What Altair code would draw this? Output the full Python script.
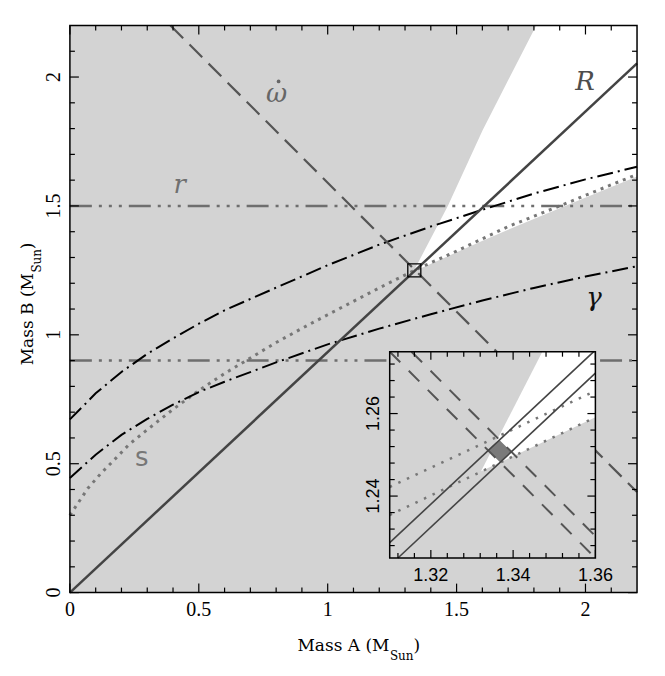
import altair as alt
import pandas as pd

# ---------------- main panel (solar masses) ----------------
main_dom = [0.0, 2.2]

R_x = [0.0, 2.2]
R_y = [0.0, 2.053]

omdot_x = [0.39, 2.2]
omdot_y = [2.2, 0.39]

r_levels = [1.5, 0.9]
r_span = [0.0, 2.2]

s_x = [0.0, 0.03, 0.07, 0.12, 0.17, 0.23, 0.3, 0.4, 0.5, 0.6, 0.7, 0.8, 0.9, 1.0,
       1.1, 1.2, 1.34, 1.5, 1.7, 1.9, 2.1, 2.2]
s_y = [0.30, 0.345, 0.405, 0.462, 0.513, 0.575, 0.632, 0.711, 0.784, 0.85, 0.91, 0.97,
       1.025, 1.078, 1.13, 1.182, 1.252, 1.325, 1.42, 1.5, 1.582, 1.622]

gam_x = [0.0, 0.05, 0.1, 0.2, 0.3, 0.4, 0.5, 0.6, 0.8, 1.0, 1.2, 1.4, 1.6, 1.8, 2.0, 2.2]
gam_up = [0.672, 0.722, 0.773, 0.856, 0.926, 0.986, 1.043, 1.095, 1.183, 1.270, 1.350,
          1.420, 1.485, 1.548, 1.603, 1.652]
gam_lo = [0.445, 0.49, 0.535, 0.612, 0.674, 0.729, 0.778, 0.818, 0.893, 0.963, 1.024,
          1.080, 1.133, 1.182, 1.226, 1.266]

wedge_x = [1.333, 1.466, 1.601, 1.691, 1.809, 1.949, 2.2]
wedge_lo = [1.246, 1.305, 1.365, 1.404, 1.453, 1.511, 1.614]
wedge_hi = [1.246, 1.5, 1.794, 1.970, 2.2, 2.2, 2.2]

square_x = [1.336]
square_y = [1.250]

main_major = [0.0, 0.5, 1.0, 1.5, 2.0]
main_major_labels = ["0", "0.5", "1", "1.5", "2"]
main_minor = [0.1, 0.2, 0.3, 0.4, 0.6, 0.7, 0.8, 0.9, 1.1, 1.2, 1.3, 1.4, 1.6, 1.7,
              1.8, 1.9, 2.1]

# ---------------- inset ----------------
ins_xdom = [1.31, 1.36]
ins_ydom = [1.225, 1.275]

insR_up_x = [1.31, 1.3596]
insR_up_y = [1.2287, 1.275]
insR_lo_x = [1.3120, 1.36]
insR_lo_y = [1.225, 1.2698]
insOm_a_x = [1.31, 1.36]
insOm_a_y = [1.275, 1.225]
insOm_b_x = [1.3153, 1.36]
insOm_b_y = [1.275, 1.2303]
insS_up_x = [1.31, 1.36]
insS_up_y = [1.2422, 1.2655]
insS_lo_x = [1.31, 1.36]
insS_lo_y = [1.2354, 1.2591]
ins_wedge_x = [1.3322, 1.3471, 1.36]
ins_wedge_lo = [1.2460, 1.2530, 1.2591]
ins_wedge_hi = [1.2460, 1.275, 1.275]
ins_patch_x = [1.3340, 1.3367, 1.3368, 1.3395]
ins_patch_lo = [1.2510, 1.2483, 1.2482, 1.2508]
ins_patch_hi = [1.2510, 1.2536, 1.2535, 1.2508]

ins_x_major = [1.32, 1.34, 1.36]
ins_x_labels = ["1.32", "1.34", "1.36"]
ins_x_minor = [1.312, 1.316, 1.324, 1.328, 1.332, 1.336, 1.344, 1.348, 1.352, 1.356]
ins_y_major = [1.24, 1.26]
ins_y_labels = ["1.24", "1.26"]
ins_y_minor = [1.228, 1.232, 1.236, 1.244, 1.248, 1.252, 1.256, 1.264, 1.268, 1.272]

# ---------------- layout / style ----------------
W = H = 568
IL, IR, IT, IB = 320.3, 526.3, 326.7, 533.3   # inset box in view pixels
GRAY = "#d3d3d3"

MX = alt.Scale(domain=main_dom, nice=False, zero=False)
MY = alt.Scale(domain=main_dom, nice=False, zero=False)
IX = alt.Scale(domain=ins_xdom, range=[IL, IR], nice=False, zero=False)
IY = alt.Scale(domain=ins_ydom, range=[IB, IT], nice=False, zero=False)


def X(f, sc):
    return alt.X(f, type="quantitative", scale=sc, axis=None)


def Y(f, sc):
    return alt.Y(f, type="quantitative", scale=sc, axis=None)


def line(xs, ys, sx, sy, color, width, dash=None):
    df = pd.DataFrame({"x": xs, "y": ys, "i": list(range(len(xs)))})
    kw = dict(color=color, strokeWidth=width)
    if dash:
        kw["strokeDash"] = dash
    return alt.Chart(df).mark_line(**kw).encode(
        x=X("x", sx), y=Y("y", sy), order=alt.Order("i:Q"))


def area(xs, lo, hi, sx, sy, color):
    df = pd.DataFrame({"x": xs, "lo": lo, "hi": hi})
    return alt.Chart(df).mark_area(color=color, opacity=1).encode(
        x=X("x", sx), y=Y("lo", sy), y2="hi")


def text(t, x, y, size, color="black", font="DejaVu Serif", style="normal",
         align="center", baseline="alphabetic", angle=0):
    df = pd.DataFrame({"t": [t]})
    return alt.Chart(df).mark_text(
        fontSize=size, font=font, fontStyle=style, color=color, align=align,
        baseline=baseline, angle=angle).encode(
        text="t:N", x=alt.value(x), y=alt.value(y))


def xticks(vals, sx, ybot, ytop, length, width=1.2):
    df = pd.DataFrame({"v": vals})
    base = alt.Chart(df).mark_rule(color="black", strokeWidth=width)
    return [
        base.encode(x=X("v", sx), y=alt.value(ybot), y2=alt.value(ybot - length)),
        base.encode(x=X("v", sx), y=alt.value(ytop), y2=alt.value(ytop + length)),
    ]


def yticks(vals, sy, xleft, xright, length, width=1.2):
    df = pd.DataFrame({"v": vals})
    base = alt.Chart(df).mark_rule(color="black", strokeWidth=width)
    return [
        base.encode(y=Y("v", sy), x=alt.value(xleft), x2=alt.value(xleft + length)),
        base.encode(y=Y("v", sy), x=alt.value(xright), x2=alt.value(xright - length)),
    ]


# ---------------- main layers ----------------
bg = alt.Chart(pd.DataFrame({"a": [main_dom[0]], "b": [main_dom[1]]})).mark_rect(
    color=GRAY).encode(x=X("a", MX), x2="b", y=Y("a", MY), y2="b")

r_df = pd.DataFrame([(lv, xx, k) for lv in r_levels for k, xx in enumerate(r_span)],
                    columns=["lv", "x", "k"])
r_lines = alt.Chart(r_df).mark_line(
    color="#6e6e6e", strokeWidth=2.5, strokeDash=[22, 7, 3, 7, 3, 7, 3, 7]).encode(
    x=X("x", MX), y=Y("lv", MY), detail="lv:N", order=alt.Order("k:Q"))

sq = alt.Chart(pd.DataFrame({"x": square_x, "y": square_y})).mark_point(
    shape="square", size=170, filled=False, color="black", strokeWidth=1.3, opacity=1
).encode(x=X("x", MX), y=Y("y", MY))

frame = alt.Chart(pd.DataFrame({"a": [main_dom[0]], "b": [main_dom[1]]})).mark_rect(
    fillOpacity=0, stroke="black", strokeWidth=1.5).encode(
    x=X("a", MX), x2="b", y=Y("a", MY), y2="b")

xlab = alt.Chart(pd.DataFrame({"v": main_major, "t": main_major_labels})).mark_text(
    font="Liberation Serif", fontSize=20, baseline="alphabetic", align="center").encode(
    x=X("v", MX), y=alt.value(591.7), text="t:N")
ylab = alt.Chart(pd.DataFrame({"v": main_major, "t": main_major_labels})).mark_text(
    font="Liberation Serif", fontSize=20, baseline="alphabetic", align="center",
    angle=270).encode(y=Y("v", MY), x=alt.value(-10), text="t:N")

main_layers = [
    bg,
    area(wedge_x, wedge_lo, wedge_hi, MX, MY, "white"),
    line(s_x, s_y, MX, MY, "#777777", 3, [3, 5]),
    r_lines,
    line(gam_x, gam_up, MX, MY, "black", 2, [16, 5, 2, 5]),
    line(gam_x, gam_lo, MX, MY, "black", 2, [16, 5, 2, 5]),
    line(omdot_x, omdot_y, MX, MY, "#555555", 2.2, [18, 9]),
    line(R_x, R_y, MX, MY, "#444444", 2.5),
    sq,
    *xticks(main_major, MX, H, 0, 9),
    *xticks(main_minor, MX, H, 0, 5),
    *yticks(main_major, MY, 0, W, 9),
    *yticks(main_minor, MY, 0, W, 5),
    xlab, ylab,
    text("R", 516, 65, 26, "#4d4d4d", style="italic"),
    text("ω", 207, 77, 26, "#666666", style="italic"),
    alt.Chart(pd.DataFrame({"t": [0]})).mark_circle(size=14, color="#666666", opacity=1)
    .encode(x=alt.value(209), y=alt.value(56)),
    text("r", 110, 168, 26, "#707070", style="italic"),
    text("s", 72, 441, 26, "#777777", font="DejaVu Sans"),
    text("γ", 525, 281, 26, "#111111", style="italic"),
    # axis titles
    text("Mass A (M", 320, 626.7, 17, align="right"),
    text("Sun", 320.5, 635, 12, align="left"),
    text(")", 344, 626.7, 17, align="left"),
    text("Mass B (M", -37, 248, 17, align="right", angle=270),
    text("Sun", -29, 247.5, 12, align="left", angle=270),
    text(")", -37, 224, 17, align="left", angle=270),
    frame,
]
main = alt.layer(*main_layers)

# ---------------- inset layers ----------------
ins_bg = alt.Chart(pd.DataFrame({"x": [ins_xdom[0]], "x2": [ins_xdom[1]],
                                 "y": [ins_ydom[0]], "y2": [ins_ydom[1]]})).mark_rect(
    color=GRAY).encode(x=X("x", IX), x2="x2", y=Y("y", IY), y2="y2")
ins_frame = alt.Chart(pd.DataFrame({"x": [ins_xdom[0]], "x2": [ins_xdom[1]],
                                    "y": [ins_ydom[0]], "y2": [ins_ydom[1]]})).mark_rect(
    fillOpacity=0, stroke="black", strokeWidth=1.5).encode(
    x=X("x", IX), x2="x2", y=Y("y", IY), y2="y2")

ins_xlab = alt.Chart(pd.DataFrame({"v": ins_x_major, "t": ins_x_labels})).mark_text(
    font="Liberation Sans", fontSize=18, baseline="alphabetic", align="center").encode(
    x=X("v", IX), y=alt.value(556), text="t:N")
ins_ylab = alt.Chart(pd.DataFrame({"v": ins_y_major, "t": ins_y_labels})).mark_text(
    font="Liberation Sans", fontSize=18, baseline="alphabetic", align="center",
    angle=270).encode(y=Y("v", IY), x=alt.value(310), text="t:N")

inset_layers = [
    ins_bg,
    area(ins_wedge_x, ins_wedge_lo, ins_wedge_hi, IX, IY, "white"),
    area(ins_patch_x, ins_patch_lo, ins_patch_hi, IX, IY, "#7a7a7a"),
    line(insS_up_x, insS_up_y, IX, IY, "#777777", 2.5, [2.5, 7]),
    line(insS_lo_x, insS_lo_y, IX, IY, "#777777", 2.5, [2.5, 7]),
    line(insOm_a_x, insOm_a_y, IX, IY, "#555555", 2, [15, 12]),
    line(insOm_b_x, insOm_b_y, IX, IY, "#555555", 2, [15, 12]),
    line(insR_up_x, insR_up_y, IX, IY, "#444444", 1.6),
    line(insR_lo_x, insR_lo_y, IX, IY, "#444444", 1.6),
    *xticks(ins_x_major, IX, IB, IT, 8),
    *xticks(ins_x_minor, IX, IB, IT, 5),
    *yticks(ins_y_major, IY, IL, IR, 8),
    *yticks(ins_y_minor, IY, IL, IR, 5),
    ins_xlab, ins_ylab,
    ins_frame,
]
inset = alt.layer(*inset_layers)

chart = alt.layer(main, inset).resolve_scale(
    x="independent", y="independent").properties(
    width=W, height=H,
    autosize=alt.AutoSizeParams(type="none"),
    padding={"left": 62, "top": 17, "right": 20, "bottom": 75},
).configure_view(stroke=None)

chart.save("out.html", embed_options={"renderer": "svg", "actions": False})
